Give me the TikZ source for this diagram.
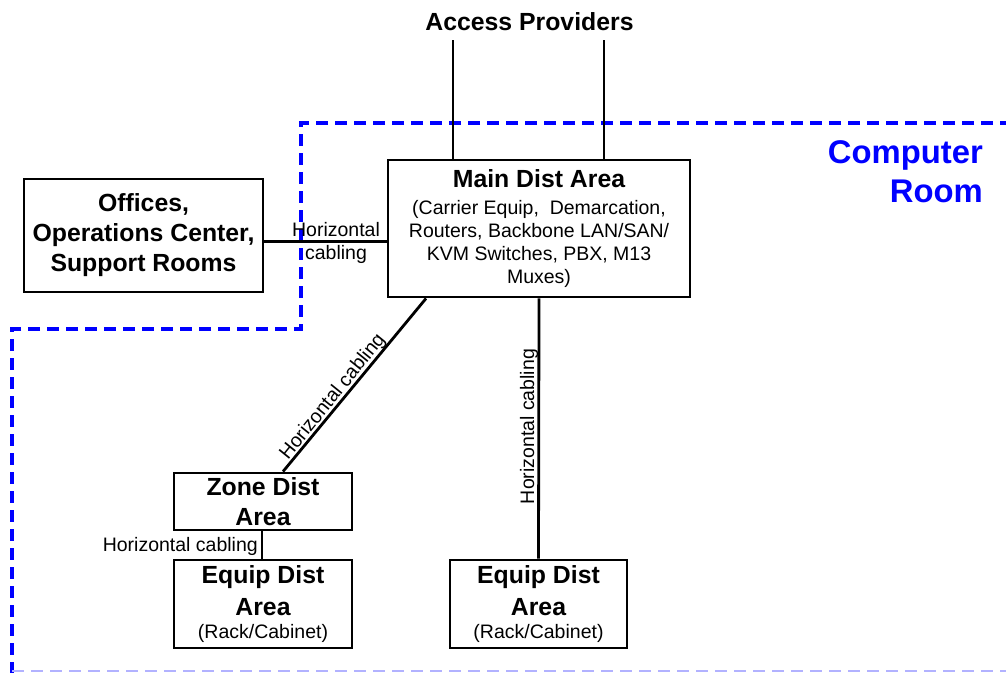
\documentclass[tikz,border=0pt]{standalone}
\usepackage{fontspec}
\setmainfont{Liberation Sans}
\newcommand\bigf{\fontsize{24.8}{30}\selectfont\bfseries}
\tikzset{
  box/.style={draw, line width=2.9pt, inner sep=0pt, align=center},
  smalltxt/.style={font=\fontsize{19.5}{23.3}\selectfont},
  bigtxt/.style={font=\fontsize{24.8}{30}\selectfont\bfseries},
  wire/.style={line width=2.8pt},
  room/.style={blue, line width=3.8pt, dash pattern=on 12pt off 7pt},
  lbl/.style={smalltxt, inner sep=0pt},
}
\begin{document}
\begin{tikzpicture}[x=1pt,y=-1pt]
\useasboundingbox (0,0) rectangle (1006,672);
% computer room boundary
\draw[room] (1012,123) -- (301,123) -- (301,329) -- (12,329) -- (12,674);
\draw[blue!30, line width=2pt, dash pattern=on 12pt off 7pt] (12,671) -- (1010,671);
\node[bigtxt, blue, font=\fontsize{32.8}{39}\selectfont\bfseries, align=right, anchor=east, inner sep=0pt] (room) at (983,172) {Computer\\Room};
% nodes
\node[bigtxt, inner sep=0pt, anchor=base] (ap) at (529.5,30.5) {Access Providers};
\node[box, smalltxt, minimum width=302pt, minimum height=137pt] (main) at (539,228.5)
  {\bigf Main Dist Area\\[3.7pt] (Carrier Equip,\ \ Demarcation,\\ Routers, Backbone LAN/SAN/\\ KVM Switches, PBX, M13\\ Muxes)};
\node[box, bigtxt, minimum width=239pt, minimum height=113pt] (off) at (143.5,235.5)
  {Offices,\\Operations Center,\\Support Rooms};
\node[box, bigtxt, minimum width=178pt, minimum height=57pt] (zone) at (263,501.5)
  {Zone Dist\\Area};
\node[box, smalltxt, minimum width=178pt, minimum height=88pt] (eq1) at (263,604)
  {\bigf Equip Dist\\[8.7pt] \bigf Area\\ (Rack/Cabinet)};
\node[box, smalltxt, minimum width=177pt, minimum height=88pt] (eq2) at (538.5,604)
  {\bigf Equip Dist\\[8.7pt] \bigf Area\\ (Rack/Cabinet)};
% access provider lines
\coordinate (ap1) at (453,40);
\coordinate (ap2) at (604,40);
\draw[wire] (ap1) -- (ap1 |- main.north);
\draw[wire] (ap2) -- (ap2 |- main.north);
% connectors
\draw[wire] ([yshift=-6pt]off.east) -- ([yshift=-6pt]off.east -| main.west);
\node[lbl, align=center] (l1) at (336,243) {Horizontal\\cabling};
\draw[wire] ([xshift=-113pt]main.south) -- ([xshift=20pt]zone.north);
\node[lbl, rotate=51] (l2) at (333,397) {Horizontal cabling};
\draw[wire] (main.south) -- (eq2.north);
\node[lbl, rotate=90] (l3) at (529,426.5) {Horizontal cabling};
\draw[wire] (zone.south -| 262,0) -- (eq1.north -| 262,0);
\node[lbl, anchor=east] (l4) at (258,546) {Horizontal cabling};
\end{tikzpicture}
\end{document}
